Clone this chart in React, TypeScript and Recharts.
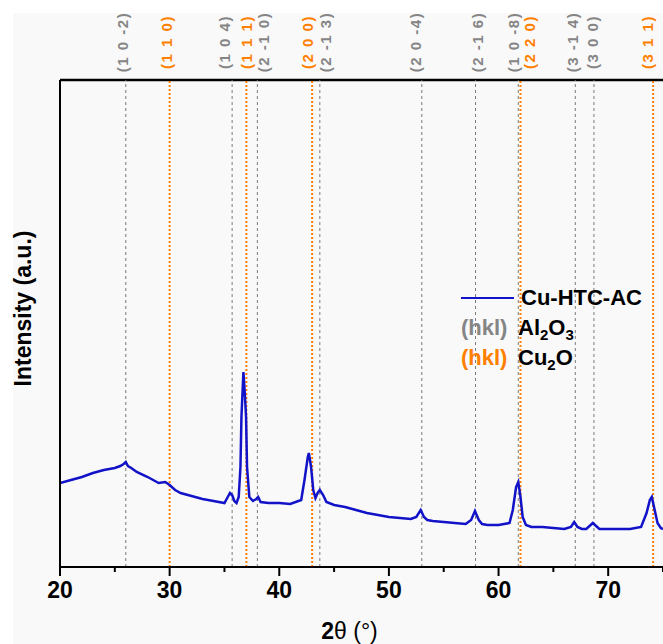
import React from 'react';
import { LineChart, Line, XAxis, YAxis, ReferenceLine, Legend } from 'recharts';

// XRD pattern (2θ in degrees, intensity in arbitrary units)
const twoTheta = [
  20, 21, 22, 23, 24, 25, 25.5, 25.8, 26, 26.2, 26.5, 27, 28, 29, 29.6, 30, 30.5, 31, 32, 33, 34, 35,
  35.3, 35.5, 35.7, 35.9, 36.1, 36.3, 36.46, 36.55, 36.73, 36.85, 36.97, 37.06, 37.27, 37.6, 37.9, 38.07,
  38.3, 39, 40, 41, 42, 42.3, 42.6, 42.7, 42.9, 43.1, 43.3, 43.5, 43.7, 44, 44.3, 45, 46, 47, 48, 49, 50,
  51, 52, 52.5, 52.9, 53.2, 53.5, 54, 55, 56, 57, 57.5, 57.85, 58.2, 58.5, 59, 60, 61, 61.3, 61.6, 61.8,
  62, 62.2, 62.5, 63, 64, 65, 66, 66.6, 66.9, 67.2, 67.6, 68, 68.3, 68.6, 68.9, 69.2, 70, 71, 72, 73,
  73.5, 73.8, 73.98, 74.2, 74.5, 74.8, 75,
];
const intensity = [
  84, 87, 90, 94, 97, 99, 101, 103, 105, 101, 99, 95, 90, 84, 85, 82, 77, 74, 71, 68, 66, 64,
  70, 74, 72, 66, 64, 70, 100, 150, 195, 175, 150, 100, 70, 66, 68, 70,
  65, 64, 64, 63, 67, 87, 110, 114, 100, 77, 69, 74, 77, 72, 65, 62, 60, 57, 54, 52, 50,
  49, 48, 50, 57, 50, 47, 46, 45, 44, 43, 47, 56, 47, 43, 42, 42, 44, 57, 80, 85,
  70, 50, 42, 40, 40, 39, 38, 40, 45, 40, 38, 38, 41, 44, 41, 38, 38, 38, 38, 40,
  54, 67, 70, 59, 44, 39, 38,
];

const al2o3Peaks = [26.0, 35.7, 38.0, 43.7, 53.0, 57.9, 61.8, 67.0, 68.7];
const al2o3Labels = ['(1 0 -2)', '(1 0 4)', '(2 -1 0)', '(2 -1 3)', '(2 0 -4)', '(2 -1 6)', '(1 0 -8)', '(3 -1 4)', '(3 0 0)'];
const cu2oPeaks = [30.0, 37.0, 43.0, 62.0, 74.1];
const cu2oLabels = ['(1 1 0)', '(1 1 1)', '(2 0 0)', '(2 2 0)', '(3 1 1)'];

// small sideways nudges so the crowded hkl labels don't overlap
const al2o3Nudge = [-3, -8, 6, 6, -6, 2, -5, -3, -1];
const cu2oNudge = [-3, 0, -5, 9, -6];

const xTicks = [20, 25, 30, 35, 40, 45, 50, 55, 60, 65, 70, 75];

const data = twoTheta.map((t, i) => ({ t, I: intensity[i] }));

const FONT = '"Liberation Sans", Arial, sans-serif';
const GRAY = '#858585';
const ORANGE = '#ff7f00';
const BLUE = '#1212c8';

const hklLabel = (text: string, color: string, nudge: number) => (props: any) => {
  const vb = props.viewBox;
  const cx = vb.x + nudge;
  const cy = vb.y - 38;
  return (
    <text
      x={cx}
      y={cy}
      transform={`rotate(-90 ${cx} ${cy})`}
      textAnchor="middle"
      dominantBaseline="central"
      fill={color}
      fontSize={15}
      fontWeight="bold"
      letterSpacing={1.5}
      fontFamily={FONT}
    >
      {text}
    </text>
  );
};

const XTick = (props: any) => {
  const { x, y, payload } = props;
  const major = payload.value % 10 === 0;
  return (
    <g>
      <line x1={x} y1={y} x2={x} y2={y + (major ? 9 : 5)} stroke="#000" strokeWidth={2} />
      {major && payload.value < 75 && (
        <text x={x} y={y + 31} textAnchor="middle" fontSize={23} fontWeight="bold" fontFamily={FONT} fill="#000">
          {payload.value}
        </text>
      )}
    </g>
  );
};

const XLabel = (props: any) => {
  const vb = props.viewBox;
  return (
    <text x={vb.x + vb.width / 2 - 12} y={vb.y + 72} textAnchor="middle" fontSize={23} fontFamily={FONT} fill="#000">
      <tspan fontWeight="bold">2</tspan>
      <tspan>θ (°)</tspan>
    </text>
  );
};

const YLabel = (props: any) => {
  const vb = props.viewBox;
  const cx = 23;
  const cy = vb.y + vb.height / 2 - 15;
  return (
    <text
      x={cx}
      y={cy}
      transform={`rotate(-90 ${cx} ${cy})`}
      textAnchor="middle"
      dominantBaseline="central"
      fontSize={23}
      fontWeight="bold"
      fontFamily={FONT}
      fill="#000"
    >
      Intensity (a.u.)
    </text>
  );
};

const sub = { fontSize: 15, position: 'relative' as const, top: 6 };

const LegendBox = () => (
  <div style={{ fontFamily: FONT, fontWeight: 'bold', fontSize: 22, color: '#000' }}>
    <div style={{ height: 30, display: 'flex', alignItems: 'center' }}>
      <span style={{ display: 'inline-block', width: 53, height: 2, background: BLUE, marginRight: 7 }} />
      Cu-HTC-AC
    </div>
    <div style={{ height: 30, display: 'flex', alignItems: 'center' }}>
      <span style={{ display: 'inline-block', width: 57, color: GRAY }}>(hkl)</span>
      Al<span style={sub}>2</span>O<span style={sub}>3</span>
    </div>
    <div style={{ height: 30, display: 'flex', alignItems: 'center' }}>
      <span style={{ display: 'inline-block', width: 57, color: ORANGE }}>(hkl)</span>
      Cu<span style={sub}>2</span>O
    </div>
  </div>
);

export default function App() {
  return (
    <div style={{ position: 'absolute', left: 0, top: 0, width: 663, height: 644, background: '#fff' }}>
      <div style={{ position: 'absolute', left: 13, top: 13, right: 0, bottom: 0, background: '#f9f9f9' }} />
      <div style={{ position: 'absolute', left: 0, top: 0 }}>
        <LineChart width={663} height={644} data={data} margin={{ top: 80, right: 0, left: 0, bottom: 47 }}>
          <XAxis
            dataKey="t"
            type="number"
            domain={[20, 75]}
            ticks={xTicks}
            tickSize={0}
            tickMargin={0}
            tickLine={false}
            tick={<XTick />}
            axisLine={{ stroke: '#000', strokeWidth: 2 }}
            height={30}
            interval={0}
            allowDataOverflow
            label={XLabel}
          />
          <YAxis
            type="number"
            domain={[0, 487]}
            width={60}
            tick={false}
            tickLine={false}
            axisLine={{ stroke: '#000', strokeWidth: 2 }}
            allowDataOverflow
            label={YLabel}
          />
          <ReferenceLine y={487} stroke="#000" strokeWidth={2.5} />
          {al2o3Peaks.map((p, i) => (
            <ReferenceLine
              key={'a' + i}
              x={p}
              stroke="#7a7a7a"
              strokeWidth={1}
              strokeDasharray="3 3"
              label={hklLabel(al2o3Labels[i], GRAY, al2o3Nudge[i])}
            />
          ))}
          {cu2oPeaks.map((p, i) => (
            <ReferenceLine
              key={'c' + i}
              x={p}
              stroke={ORANGE}
              strokeWidth={2}
              strokeDasharray="2 2"
              label={hklLabel(cu2oLabels[i], ORANGE, cu2oNudge[i])}
            />
          ))}
          <Line
            type="linear"
            dataKey="I"
            stroke={BLUE}
            strokeWidth={2.5}
            dot={false}
            isAnimationActive={false}
          />
          <Legend
            layout="horizontal"
            verticalAlign="middle"
            align="center"
            content={LegendBox}
            wrapperStyle={{ left: 461, top: 283, width: 200, height: 90 }}
          />
        </LineChart>
      </div>
    </div>
  );
}
